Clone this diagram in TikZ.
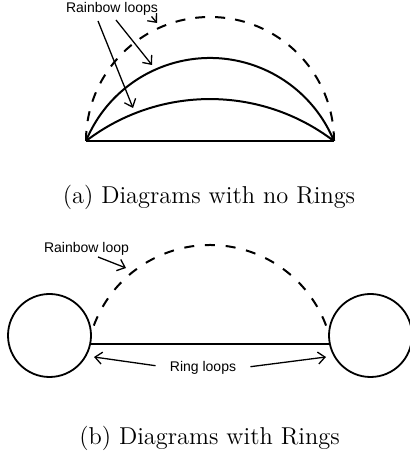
\documentclass[tikz,border=0pt]{standalone}
\usepackage{fontspec}
\newfontfamily\lblfont{Liberation Sans}
\usetikzlibrary{arrows.meta}
\begin{document}
\begin{tikzpicture}[x=0.5pt,y=0.5pt,
  loopline/.style={line width=1pt},
  dashloop/.style={line width=1pt, dash pattern=on 5pt off 5pt},
  ptr/.style={line width=0.65pt, -{Straight Barb[length=3.5pt,width=6pt]}},
  lbl/.style={font=\lblfont\fontsize{7}{8}\selectfont, inner sep=0pt},
  captext/.style={font=\fontsize{12.2}{14}\selectfont, inner sep=0pt, anchor=base},
  ring/.style={circle, draw, line width=0.9pt, minimum size=41.5pt, inner sep=0pt}]
\useasboundingbox (0,0) rectangle (409,453);
% ---------- (a) ----------
\coordinate (aL) at (86,312);
\coordinate (aR) at (334,312);
\draw[loopline] (aL) -- (aR);
\draw[dashloop] (aL) arc[start angle=180, end angle=0, radius=124];
\draw[loopline] (aL) arc[start angle=157.6, end angle=22.4, radius=134.1];
\draw[loopline] (aL) arc[start angle=127.4, end angle=52.6, radius=204];
\node[lbl, anchor=base] (rla) at (112,440.3) {Rainbow loops};
\coordinate (s1) at (98,432);
\coordinate (t1) at (133,345);
\coordinate (s2) at (116,433);
\coordinate (t2) at (152,388);
\coordinate (s3) at (151.5,436.5);
\coordinate (t3) at (157,430);
\draw[ptr] (s1) -- (t1);
\draw[ptr] (s2) -- (t2);
\draw[ptr] (s3) -- (t3);
\node[captext] (capa) at (209,249) {(a) Diagrams with no Rings};
% ---------- (b) ----------
\node[ring] (lc) at (49.5,117.5) {};
\node[ring] (rc) at (370.5,117.5) {};
\draw[loopline] (lc.-12) -- (rc.-168);
\draw[dashloop, dash pattern=on 5pt off 5.386pt] (93.8,127.4) arc[start angle=159.5, end angle=20.5, radius=124];
\node[lbl, anchor=base] (rlb) at (86.5,200.7) {Rainbow loop};
\coordinate (s4) at (98,196);
\coordinate (t4) at (126,185);
\draw[ptr] (s4) -- (t4);
\node[lbl, anchor=base, inner xsep=7pt] (rgl) at (203,81.3) {Ring loops};
\coordinate (t5) at (94,96);
\coordinate (t6) at (326,96);
\draw[ptr] ([yshift=3pt]rgl.base west) -- (t5);
\draw[ptr] ([yshift=2.5pt]rgl.base east) -- (t6);
\node[captext] (capb) at (209.5,9) {(b) Diagrams with Rings};
\end{tikzpicture}
\end{document}
